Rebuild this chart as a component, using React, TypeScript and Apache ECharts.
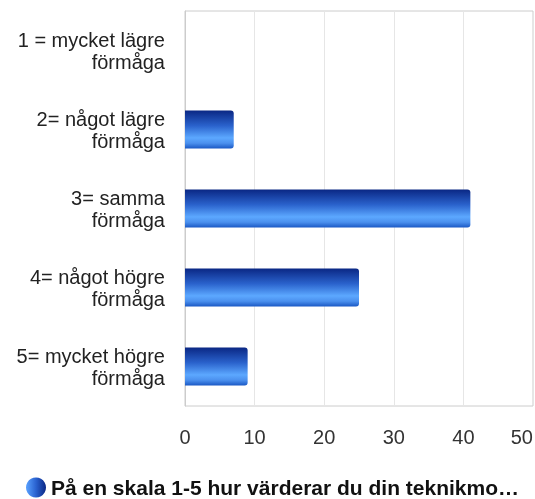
import React, { useEffect, useRef } from "react";
import * as echarts from "echarts";

const categories = [
  "1 = mycket lägre förmåga",
  "2= något lägre förmåga",
  "3= samma förmåga",
  "4= något högre förmåga",
  "5= mycket högre förmåga",
];
const values = [0, 7, 41, 25, 9];
const seriesName = "På en skala 1-5 hur värderar du din teknikmo…";
const xTicks = { min: 0, max: 50, interval: 10 };

export default function App() {
  const ref = useRef<HTMLDivElement>(null);
  useEffect(() => {
    if (!ref.current) return;
    const chart = echarts.init(ref.current, undefined, { renderer: "svg" });
    const barGrad = new echarts.graphic.LinearGradient(0, 0, 0, 1, [
      { offset: 0, color: "#0a2784" },
      { offset: 0.4, color: "#2a62cc" },
      { offset: 0.72, color: "#5ca8ff" },
      { offset: 0.86, color: "#4b90ee" },
      { offset: 1, color: "#1a58c4" },
    ]);
    const legendGrad = new echarts.graphic.LinearGradient(0, 0, 1, 0, [
      { offset: 0, color: "#5aa2ff" },
      { offset: 0.5, color: "#2a62d0" },
      { offset: 1, color: "#0a2784" },
    ]);
    chart.setOption({
      animation: false,
      textStyle: { fontFamily: "Liberation Sans, Arial, sans-serif" },
      grid: {
        left: 185,
        right: 2,
        top: 11,
        bottom: 93,
        outerBoundsMode: "none",
        containLabel: false,
        show: true,
        borderColor: "#cccccc",
        borderWidth: 1,
      },
      legend: {
        left: 26,
        top: 477,
        padding: 0,
        icon: "circle",
        itemWidth: 20,
        itemHeight: 20,
        data: [{ name: seriesName, itemStyle: { color: legendGrad } }],
        textStyle: {
          fontSize: 21,
          fontWeight: "bold",
          color: "#111",
          fontFamily: "Liberation Sans, Arial, sans-serif",
        },
      },
      xAxis: {
        type: "value",
        min: xTicks.min,
        max: xTicks.max,
        interval: xTicks.interval,
        axisLine: { show: false },
        axisTick: { show: false },
        splitLine: { show: true, lineStyle: { color: "#e6e6e6", width: 1 } },
        axisLabel: {
          fontSize: 20,
          color: "#333",
          margin: 21,
          alignMaxLabel: "right",
          fontFamily: "Liberation Sans, Arial, sans-serif",
        },
      },
      yAxis: {
        type: "category",
        inverse: true,
        data: categories,
        axisLine: { show: true, lineStyle: { color: "#cccccc" } },
        axisTick: { show: false },
        axisLabel: {
          fontSize: 20,
          lineHeight: 22,
          color: "#222",
          margin: 20,
          align: "right",
          fontFamily: "Liberation Sans, Arial, sans-serif",
          formatter: (v: string) => v.replace(" förmåga", "\nförmåga"),
        },
      },
      series: [
        {
          name: seriesName,
          type: "bar",
          data: values,
          barWidth: 38,
          itemStyle: { color: barGrad, borderRadius: [0, 3, 3, 0] },
        },
      ],
    });
    return () => chart.dispose();
  }, []);
  return (
    <div
      ref={ref}
      style={{ position: "fixed", left: 0, top: 0, width: 535, height: 499 }}
    />
  );
}
